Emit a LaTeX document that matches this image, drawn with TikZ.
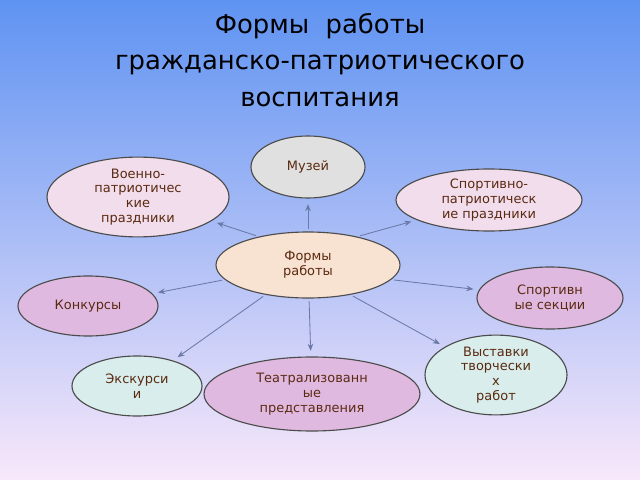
\documentclass[tikz,border=0pt]{standalone}
\usepackage{fontspec}
\setmainfont{DejaVu Sans}
\usetikzlibrary{arrows.meta}
\definecolor{skytop}{HTML}{5F93F2}
\definecolor{skybot}{HTML}{F8E8FA}
\definecolor{txtbrown}{HTML}{5A2A10}
\definecolor{fgray}{HTML}{E0E0E0}
\definecolor{fpink}{HTML}{F2DDEC}
\definecolor{fpeach}{HTML}{F8E2D2}
\definecolor{fmauve}{HTML}{E0B9E0}
\definecolor{fcyan}{HTML}{D8EDEC}
\definecolor{linkcol}{HTML}{6A7AA8}
\tikzset{
  form/.style={ellipse, draw=black!70, line width=0.8pt, text=txtbrown,
    font=\fontsize{9.2}{10.5}\selectfont, align=center, inner sep=0pt},
  link/.style={draw=linkcol, line width=0.6pt, -{Stealth[length=5pt,width=4pt]},
    shorten <=2pt, shorten >=4pt}
}
\usetikzlibrary{shapes.geometric}
\begin{document}
\begin{tikzpicture}[x=0.025cm,y=-0.025cm]
  \shade[top color=skytop, bottom color=skybot] (0,0) rectangle (640,480);
  \useasboundingbox (0,0) rectangle (640,480);
  % title
  \node[font=\fontsize{18.4}{26}\selectfont, align=center] (title) at (320,60)
    {Формы\ \ работы\\гражданско-патриотического\\воспитания};
  % ellipses
  \node[form, fill=fgray, minimum width=114*0.025cm, minimum height=62*0.025cm] (muz) at (308,167) {Музей};
  \node[form, fill=fpink, minimum width=182*0.025cm, minimum height=64*0.025cm] (voen) at (138,197) {Военно-\\патриотичес\\кие\\праздники};
  \node[form, fill=fpink, minimum width=186*0.025cm, minimum height=62*0.025cm] (sport) at (489,200) {Спортивно-\\патриотическ\\ие праздники};
  \node[form, fill=fpeach, minimum width=184*0.025cm, minimum height=66*0.025cm] (main) at (308,265) {Формы\\работы};
  \node[form, fill=fmauve, minimum width=140*0.025cm, minimum height=60*0.025cm] (konk) at (88,306) {Конкурсы};
  \node[form, fill=fmauve, minimum width=146*0.025cm, minimum height=62*0.025cm] (sekc) at (550,298) {Спортивн\\ые секции};
  \node[form, fill=fcyan, minimum width=142*0.025cm, minimum height=70*0.025cm] (vyst) at (496,375) {Выставки\\творчески\\х\\работ};
  \node[form, fill=fcyan, minimum width=130*0.025cm, minimum height=60*0.025cm] (eksk) at (137,386) {Экскурси\\и};
  \node[form, fill=fmauve, minimum width=216*0.025cm, minimum height=74*0.025cm] (teatr) at (312,394) {Театрализованн\\ые\\представления};
  % links
  \draw[link] (main) -- (muz);
  \draw[link] (main.150) -- (voen);
  \draw[link] (main.30) -- (sport);
  \draw[link] (main.190) -- (konk);
  \draw[link] (main.350) -- (sekc);
  \draw[link] (main.325) -- (vyst);
  \draw[link] (main.215) -- (eksk);
  \draw[link] (main) -- (teatr);
\end{tikzpicture}
\end{document}
